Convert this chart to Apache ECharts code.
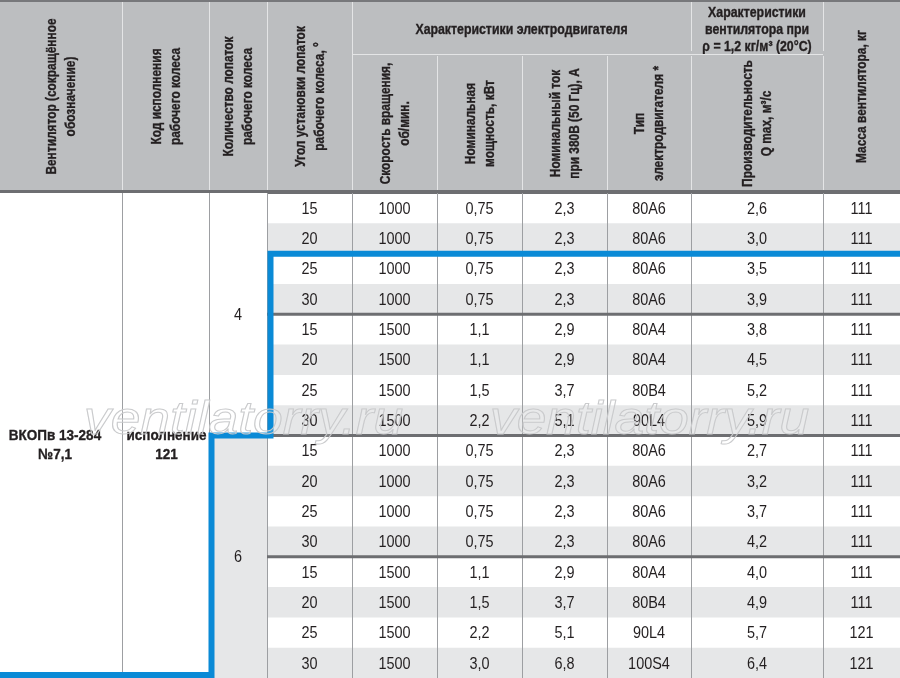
<!DOCTYPE html>
<html>
<head>
<meta charset="utf-8">
<script src="https://cdn.jsdelivr.net/npm/echarts/dist/echarts.min.js"></script>
<style>
html, body { margin: 0; padding: 0; background: #fff; }
#chart { width: 900px; height: 678px; }
</style>
</head>
<body>
<div id="chart"></div>
<script>
// table data
var fanName = 'ВКОПв 13-284\n№7,1';
var impellerCode = 'исполнение\n121';
var blades = [4, 4, 4, 4, 4, 4, 4, 4, 6, 6, 6, 6, 6, 6, 6, 6];
var angles = [15, 20, 25, 30, 15, 20, 25, 30, 15, 20, 25, 30, 15, 20, 25, 30];
var speeds = [1000, 1000, 1000, 1000, 1500, 1500, 1500, 1500, 1000, 1000, 1000, 1000, 1500, 1500, 1500, 1500];
var power = ['0,75', '0,75', '0,75', '0,75', '1,1', '1,1', '1,5', '2,2', '0,75', '0,75', '0,75', '0,75', '1,1', '1,5', '2,2', '3,0'];
var current = ['2,3', '2,3', '2,3', '2,3', '2,9', '2,9', '3,7', '5,1', '2,3', '2,3', '2,3', '2,3', '2,9', '3,7', '5,1', '6,8'];
var motorType = ['80A6', '80A6', '80A6', '80A6', '80A4', '80A4', '80B4', '90L4', '80A6', '80A6', '80A6', '80A6', '80A4', '80B4', '90L4', '100S4'];
var flow = ['2,6', '3,0', '3,5', '3,9', '3,8', '4,5', '5,2', '5,9', '2,7', '3,2', '3,7', '4,2', '4,0', '4,9', '5,7', '6,4'];
var mass = [111, 111, 111, 111, 111, 111, 111, 111, 111, 111, 111, 111, 111, 111, 121, 121];

var headerLabels = [
    'Вентилятор (сокращённое\nобозначение)',
    'Код исполнения\nрабочего колеса',
    'Количество лопаток\nрабочего колеса',
    'Угол установки лопаток\nрабочего колеса, °',
    'Характеристики электродвигателя',
    'Скорость вращения,\nоб/мин.',
    'Номинальная\nмощность, кВт',
    'Номинальный ток\nпри 380В (50 Гц), А',
    'Тип\nэлектродвигателя *',
    'Характеристики\nвентилятора при\nρ = 1,2 кг/м³ (20°C)',
    'Производительность\nQ max, м³/с',
    'Масса вентилятора, кг'
];
var watermark = 'ventilatorry.ru';

// layout (table units: x in px-like column edges, header y in px, body y in rows)
var colEdges = [0, 122, 209, 267, 352, 437, 522, 607, 691, 823, 900];
var headerBoxes = [
    [0, 122, 0, 193, 1], [122, 209, 0, 193, 1], [209, 267, 0, 193, 1], [267, 352, 0, 193, 1],
    [352, 691, 0, 54, 0],
    [352, 437, 54, 193, 1], [437, 522, 54, 193, 1], [522, 607, 54, 193, 1], [607, 691, 54, 193, 1],
    [691, 823, 0, 54, 0],
    [691, 823, 54, 193, 1], [823, 900, 0, 193, 1]
];
var highlightStartRow = 2;

var FONT = '"Liberation Sans", Arial, sans-serif';
var TEXT = '#231f20';
var STRIPE = '#e6e7e8';
var HEAD_BG = '#bcbec0';
var BLUE = '#0a8ad6';

var chart = echarts.init(document.getElementById('chart'));

function label(x, y, text, font, opts) {
    opts = opts || {};
    return {
        type: 'text',
        x: x, y: y,
        rotation: opts.rotation || 0,
        scaleX: opts.scaleX || 1,
        style: {
            text: text, x: 0, y: 0,
            align: 'center', verticalAlign: 'middle',
            font: font, lineHeight: opts.lineHeight, fill: TEXT,
            stroke: opts.heavy ? TEXT : null, lineWidth: opts.heavy || 0
        }
    };
}

function headerItem(params, api) {
    var b = headerBoxes[params.dataIndex];
    var p0 = api.coord([b[0], b[2]]);
    var p1 = api.coord([b[1], b[3]]);
    var cx = (p0[0] + p1[0]) / 2, cy = (p0[1] + p1[1]) / 2;
    var children = [];
    if (params.dataIndex === 0) {
        var a = api.coord([0, 0]), z = api.coord([900, 193]);
        children.push({ type: 'rect', shape: { x: a[0], y: a[1], width: z[0] - a[0], height: z[1] - a[1] }, style: { fill: HEAD_BG } });
        children.push({ type: 'rect', shape: { x: a[0], y: a[1], width: z[0] - a[0], height: 2 }, style: { fill: '#77787b' } });
        children.push({ type: 'rect', shape: { x: a[0], y: z[1] - 3, width: z[0] - a[0], height: 4 }, style: { fill: '#6d6e71' } });
    }
    if (b[1] < 900) {
        children.push({ type: 'line', shape: { x1: p1[0] + 0.5, y1: p0[1] + 2, x2: p1[0] + 0.5, y2: p1[1] - 3 }, style: { stroke: '#e4e5e6', lineWidth: 1 } });
    }
    if (b[2] > 0) {
        children.push({ type: 'line', shape: { x1: p0[0], y1: p0[1] + 0.5, x2: p1[0], y2: p0[1] + 0.5 }, style: { stroke: '#e4e5e6', lineWidth: 1 } });
    }
    var rotated = b[4] === 1;
    children.push(label(cx + (rotated ? 1 : 0), cy + (rotated ? 0 : 3), headerLabels[params.dataIndex], 'bold 14px ' + FONT, {
        rotation: rotated ? Math.PI / 2 : 0,
        scaleX: rotated ? 0.85 : 0.88,
        lineHeight: rotated ? 19 : 17,
        heavy: 0.35
    }));
    return { type: 'group', children: children };
}

function rowItem(params, api) {
    var i = params.dataIndex;
    var top = api.coord([0, i])[1], bottom = api.coord([0, i + 1])[1];
    var cells = [angles[i], speeds[i], power[i], current[i], motorType[i], flow[i], mass[i]];
    var children = [];
    if (i % 2 === 1) {
        var xa = api.coord([colEdges[3], 0])[0], xb = api.coord([colEdges[10], 0])[0];
        children.push({ type: 'rect', shape: { x: xa, y: top, width: xb - xa, height: bottom - top }, style: { fill: STRIPE } });
    }
    cells.forEach(function (t, k) {
        var x0 = api.coord([colEdges[k + 3], 0])[0], x1 = api.coord([colEdges[k + 4], 0])[0];
        children.push(label((x0 + x1) / 2, (top + bottom) / 2 + 1, String(t), '17px ' + FONT, { scaleX: 0.85 }));
    });
    return { type: 'group', children: children };
}

// merged cells: fan name, impeller code, blade groups
var merged = [
    { x0: 0, x1: 122, r0: 0, r1: blades.length, text: fanName, bold: true, bg: '#fff', dx: -6 },
    { x0: 122, x1: 209, r0: 0, r1: blades.length, text: impellerCode, bold: true, bg: '#fff', dx: 1 }
];
(function () {
    var start = 0, g = 0;
    for (var i = 1; i <= blades.length; i++) {
        if (i === blades.length || blades[i] !== blades[start]) {
            merged.push({ x0: 209, x1: 267, r0: start, r1: i, text: String(blades[start]), bold: false, bg: g % 2 ? STRIPE : '#fff', dx: 0 });
            start = i; g++;
        }
    }
})();

function mergedItem(params, api) {
    var m = merged[params.dataIndex];
    var p0 = api.coord([m.x0, m.r0]), p1 = api.coord([m.x1, m.r1]);
    var cx = (p0[0] + p1[0]) / 2 + m.dx, cy = (p0[1] + p1[1]) / 2;
    return {
        type: 'group',
        children: [
            { type: 'rect', shape: { x: p0[0], y: p0[1], width: p1[0] - p0[0], height: p1[1] - p0[1] }, style: { fill: m.bg } },
            m.bold
                ? label(cx, cy + 10, m.text, 'bold 15px ' + FONT, { lineHeight: 19, scaleX: 0.9, heavy: 0.35 })
                : label(cx, cy + 1, m.text, '17px ' + FONT, { scaleX: 0.85 })
        ]
    };
}

function frameItem(params, api) {
    var children = [];
    var yTop = api.coord([0, 0])[1], yBot = api.coord([0, blades.length])[1];
    for (var k = 1; k < colEdges.length - 1; k++) {
        var x = Math.round(api.coord([colEdges[k], 0])[0]) + 0.5;
        children.push({ type: 'line', shape: { x1: x, y1: yTop, x2: x, y2: yBot }, style: { stroke: '#9d9fa2', lineWidth: 1 } });
    }
    // group separators where the motor speed changes
    var xs = api.coord([colEdges[3], 0])[0], xe = api.coord([colEdges[10], 0])[0];
    for (var i = 1; i < speeds.length; i++) {
        if (speeds[i] !== speeds[i - 1]) {
            var y = api.coord([0, i])[1];
            children.push({ type: 'line', shape: { x1: xs, y1: y, x2: xe, y2: y }, style: { stroke: '#6d6e71', lineWidth: 3 } });
        }
    }
    // blue highlight outline
    var sixStart = blades.indexOf(6);
    var pts = [
        [900, highlightStartRow], [270.5, highlightStartRow], [270.5, sixStart],
        [211.5, sixStart], [211.5, blades.length - 0.1], [0, blades.length - 0.1]
    ].map(function (p) { return api.coord(p); });
    children.push({ type: 'polyline', shape: { points: pts }, style: { stroke: BLUE, lineWidth: 6, fill: null, lineJoin: 'miter' } });
    return { type: 'group', children: children };
}

var wmStyle = { text: watermark, font: 'italic 46px ' + FONT, fill: 'rgba(255,255,255,0.15)', stroke: '#c6c7c9', lineWidth: 1 };

var option = {
    animation: false,
    grid: [
        { left: 0, right: 0, top: 0, height: 193 },
        { left: 0, right: 0, top: 193, bottom: 0 }
    ],
    xAxis: [
        { gridIndex: 0, type: 'value', min: 0, max: 900, show: false },
        { gridIndex: 1, type: 'value', min: 0, max: 900, show: false }
    ],
    yAxis: [
        { gridIndex: 0, type: 'value', min: 0, max: 193, inverse: true, show: false },
        { gridIndex: 1, type: 'value', min: 0, max: blades.length, inverse: true, show: false }
    ],
    series: [
        {
            type: 'custom', xAxisIndex: 0, yAxisIndex: 0, clip: false, z: 2,
            data: headerBoxes.map(function (b, i) { return [0, i]; }),
            renderItem: headerItem
        },
        {
            type: 'custom', xAxisIndex: 1, yAxisIndex: 1, clip: false, z: 2,
            data: angles.map(function (a, i) { return [0, i]; }),
            renderItem: rowItem
        },
        {
            type: 'custom', xAxisIndex: 1, yAxisIndex: 1, clip: false, z: 2,
            data: merged.map(function (m, i) { return [0, i]; }),
            renderItem: mergedItem
        },
        {
            type: 'custom', xAxisIndex: 1, yAxisIndex: 1, clip: false, z: 3,
            data: [[0, 0]],
            renderItem: frameItem
        }
    ],
    graphic: [
        { type: 'text', x: 84, y: 398, scaleX: 1.16, z: 10, silent: true, style: wmStyle },
        { type: 'text', x: 490, y: 398, scaleX: 1.16, z: 10, silent: true, style: wmStyle }
    ]
};

chart.setOption(option);
window.addEventListener('resize', chart.resize);
</script>
</body>
</html>
